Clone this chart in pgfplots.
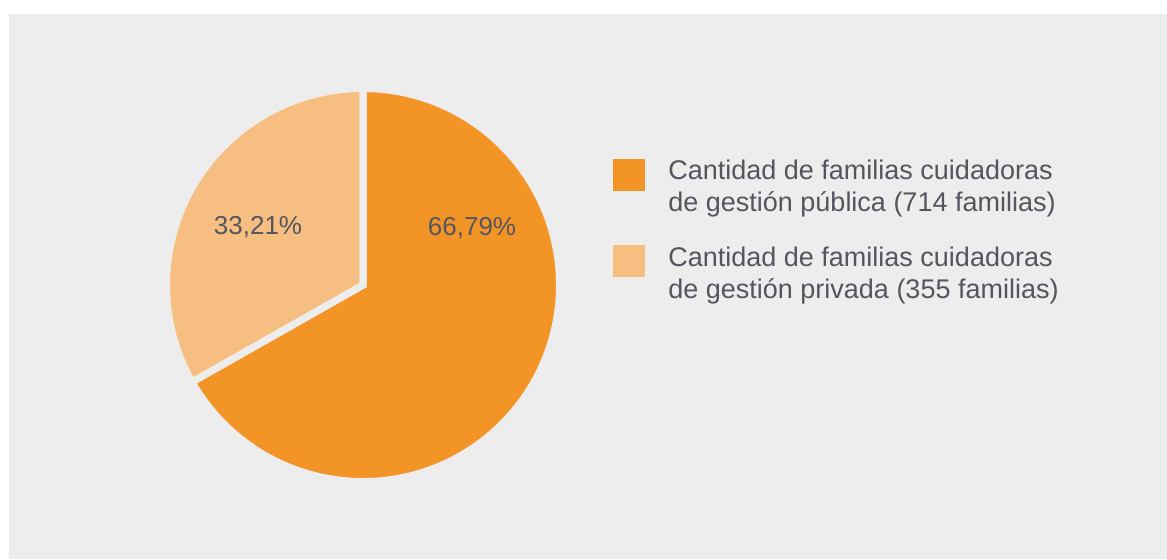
\documentclass[border=0pt]{standalone}
\usepackage{fontspec}
\setmainfont{Liberation Sans}
\usepackage{pgfplots}
\usepackage{pgfplotstable}
\pgfplotsset{compat=1.18}
\definecolor{bg}{HTML}{EDEDED}
\definecolor{pub}{HTML}{F39427}
\definecolor{priv}{HTML}{F6BF81}
\definecolor{txt}{HTML}{55555F}
\pgfplotstableread{
value
66.79
33.21
}\piedata
\begin{document}
\begin{tikzpicture}
\pgfplotstablegetelem{0}{value}\of\piedata \let\va\pgfplotsretval
\pgfplotstablegetelem{1}{value}\of\piedata \let\vb\pgfplotsretval
\pgfmathsetmacro\angA{90-3.6*\va}
\pgfmathsetmacro\angB{\angA-3.6*\vb}
\begin{axis}[x=0.5pt,y=0.5pt,xmin=0,xmax=1167,ymin=0,ymax=559,hide axis,clip=false,scale only axis]
\fill[white] (axis cs:0,0) rectangle (axis cs:1167,559);
\fill[bg] (axis cs:9,0) rectangle (axis cs:1167,545);
\filldraw[fill=pub, draw=bg, line width=3.6pt] (axis cs:363,274) -- ++(90:98.3pt) arc[start angle=90, end angle=\angA, radius=98.3pt] -- cycle;
\filldraw[fill=priv, draw=bg, line width=3.6pt] (axis cs:363,274) -- ++(\angA:98.3pt) arc[start angle=\angA, end angle=\angB, radius=98.3pt] -- cycle;
\node[txt, font=\fontsize{13}{16}\selectfont] at (axis cs:258,332) {33,21\%};
\node[txt, font=\fontsize{13}{16}\selectfont] at (axis cs:472,331) {66,79\%};
\fill[pub] (axis cs:613,368) rectangle (axis cs:645,400);
\fill[priv] (axis cs:613,282) rectangle (axis cs:645,314);
\node[txt, anchor=base west, align=left, font=\fontsize{13.5}{16}\selectfont, inner sep=0pt] at (axis cs:668,347.3) {Cantidad de familias cuidadoras\\de gestión pública (714 familias)};
\node[txt, anchor=base west, align=left, font=\fontsize{13.5}{16}\selectfont, inner sep=0pt] at (axis cs:668,260.5) {Cantidad de familias cuidadoras\\de gestión privada (355 familias)};
\end{axis}
\end{tikzpicture}
\end{document}
